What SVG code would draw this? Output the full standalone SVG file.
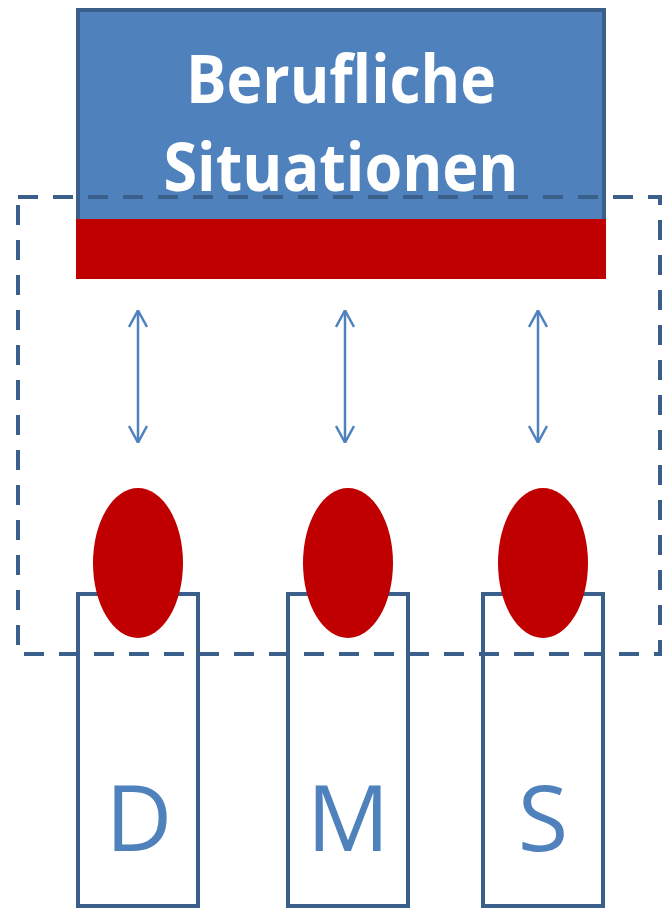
<svg xmlns="http://www.w3.org/2000/svg" width="664" height="909" viewBox="0 0 664 909">
<style>
.box{fill:#4F81BD;stroke:#3A5F8B;stroke-width:4}
.bar{fill:#C00000}
.col{fill:#FFFFFF;stroke:#3A5F8B;stroke-width:4}
.head{fill:#C00000}
.title{font-family:"Open Sans","Liberation Sans",sans-serif;font-weight:bold;font-size:66px;fill:#FFFFFF;text-anchor:middle}
.letter{font-family:"Open Sans","Liberation Sans",sans-serif;font-size:92px;fill:#4F81BD;text-anchor:middle}
.frame{fill:none;stroke:#3A5F8B;stroke-width:4;stroke-dasharray:20 15}
.arr{stroke:#4F81BD;stroke-width:2.5;fill:none;marker-start:url(#ah);marker-end:url(#ah)}
</style>
<defs>
<marker id="ah" viewBox="0 0 18 20" refX="18" refY="10" markerWidth="18" markerHeight="20" markerUnits="userSpaceOnUse" orient="auto-start-reverse">
<path d="M1,1 L17.5,10 L1,19" fill="none" stroke="#4F81BD" stroke-width="2.5"/>
</marker>
</defs>
<g id="situationen">
<rect class="box" x="78" y="10" width="526" height="230"/>
<text class="title" x="341" y="103" textLength="310" lengthAdjust="spacingAndGlyphs">Berufliche</text>
<text class="title" x="341" y="191" textLength="355" lengthAdjust="spacingAndGlyphs">Situationen</text>
</g>
<g id="col-D">
<rect class="col" x="78" y="594" width="120" height="312"/>
<ellipse class="head" cx="138" cy="563" rx="45" ry="75"/>
<text class="letter" x="139" y="851">D</text>
</g>
<g id="col-M">
<rect class="col" x="288" y="594" width="120" height="312"/>
<ellipse class="head" cx="348" cy="563" rx="45" ry="75"/>
<text class="letter" x="348" y="851">M</text>
</g>
<g id="col-S">
<rect class="col" x="483" y="594" width="120" height="312"/>
<ellipse class="head" cx="543" cy="563" rx="45" ry="75"/>
<text class="letter" x="543" y="851">S</text>
</g>
<g id="frame">
<rect class="frame" x="18" y="197" width="642" height="457"/>
</g>
<g id="bar">
<rect class="bar" x="76" y="219" width="530" height="60"/>
</g>
<g id="connectors">
<line class="arr" x1="138" y1="310" x2="138" y2="443"/>
<line class="arr" x1="345" y1="310" x2="345" y2="443"/>
<line class="arr" x1="538" y1="310" x2="538" y2="443"/>
</g>
</svg>
